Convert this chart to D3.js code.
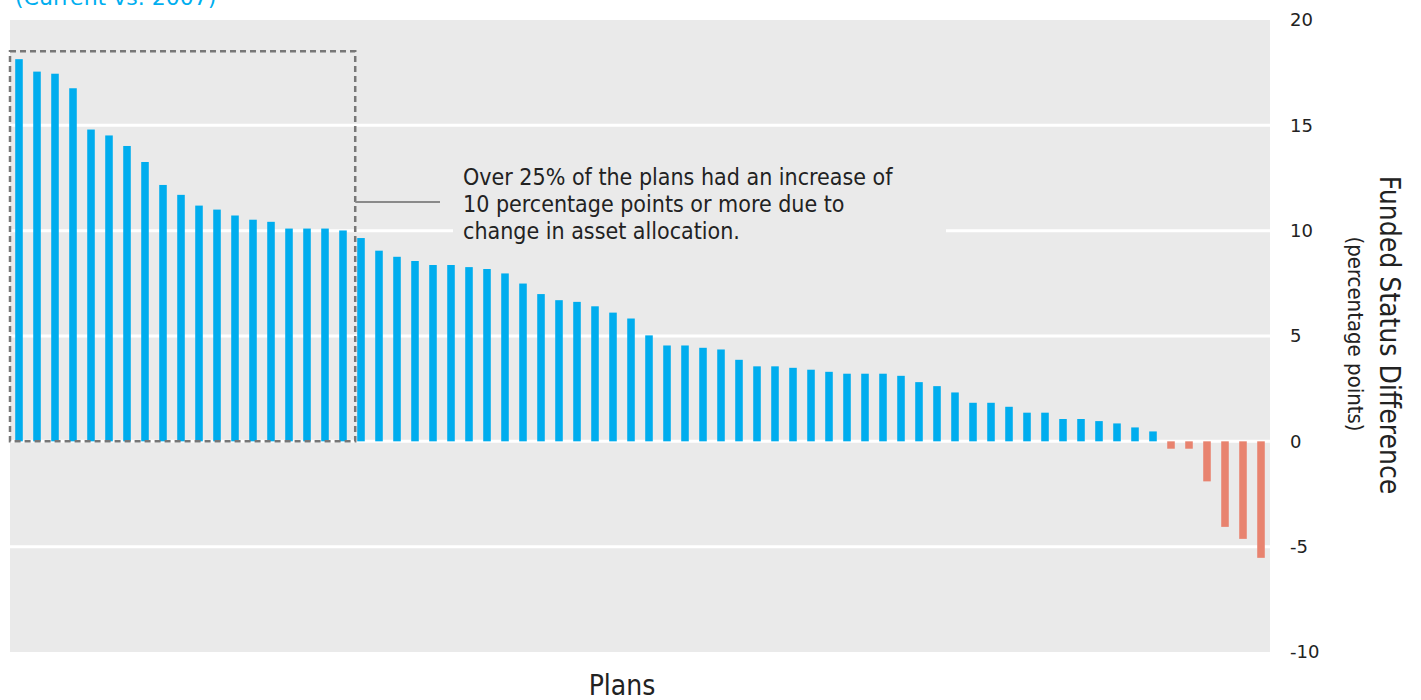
<!DOCTYPE html>
<html>
<head>
<meta charset="utf-8">
<script src="https://cdn.jsdelivr.net/npm/d3@7"></script>
<style>
  html, body { margin: 0; padding: 0; background: #ffffff; }
  svg { display: block; }
</style>
</head>
<body>
<svg id="chart" width="1421" height="700"></svg>
<script>
// Funded status difference per plan (percentage points), sorted descending
const plans = d3.range(1, 71).map(i => "Plan " + i);
const fundedDiff = [
  18.14, 17.55, 17.45, 16.76, 14.80, 14.52, 14.02, 13.26, 12.17, 11.70,
  11.19, 11.00, 10.72, 10.52, 10.42, 10.10, 10.10, 10.10, 10.01, 9.65,
  9.05, 8.76, 8.56, 8.37, 8.37, 8.27, 8.18, 7.97, 7.49, 6.99,
  6.70, 6.62, 6.41, 6.11, 5.83, 5.03, 4.55, 4.55, 4.44, 4.36,
  3.87, 3.56, 3.56, 3.49, 3.40, 3.30, 3.21, 3.21, 3.21, 3.11,
  2.81, 2.62, 2.32, 1.83, 1.83, 1.64, 1.36, 1.36, 1.06, 1.06,
  0.96, 0.85, 0.66, 0.47, -0.35, -0.35, -1.90, -4.06, -4.63, -5.53
];
const yTicks = [20, 15, 10, 5, 0, -5, -10];
const highlightCount = 19; // plans with an increase of 10+ points
const titleText = "(Current vs. 2007)";
const noteLines = [
  "Over 25% of the plans had an increase of",
  "10 percentage points or more due to",
  "change in asset allocation."
];
const axisTitle = "Funded Status Difference";
const axisSubtitle = "(percentage points)";
const xTitle = "Plans";

const condensed = "'DejaVu Sans Condensed', 'DejaVu Sans', sans-serif";
const svg = d3.select("#chart");
const panel = { left: 10, right: 1270, top: 20, bottom: 652 };

const x = d3.scaleBand()
  .domain(plans)
  .range([panel.left, panel.right])
  .paddingInner(0.58)
  .paddingOuter(0.29);

const y = d3.scaleLinear()
  .domain([-10, 20])
  .range([panel.bottom, panel.top]);

// Plot background
svg.append("rect")
  .attr("x", panel.left).attr("y", panel.top)
  .attr("width", panel.right - panel.left)
  .attr("height", panel.bottom - panel.top)
  .attr("fill", "#eaeaea");

// Horizontal gridlines
svg.append("g")
  .selectAll("line")
  .data(yTicks.filter(t => t > -10 && t < 20))
  .join("line")
  .attr("x1", panel.left).attr("x2", panel.right)
  .attr("y1", d => y(d)).attr("y2", d => y(d))
  .attr("stroke", "#ffffff")
  .attr("stroke-width", 3);

// Bars
svg.append("g")
  .selectAll("rect")
  .data(fundedDiff)
  .join("rect")
  .attr("x", (d, i) => x(plans[i]))
  .attr("width", x.bandwidth())
  .attr("y", d => y(Math.max(0, d)))
  .attr("height", d => Math.abs(y(d) - y(0)))
  .attr("fill", d => d >= 0 ? "#00adee" : "#e8836f");

// Dashed box around the top plans
const boxRight = x(plans[highlightCount]) - 2;
const boxTop = y(d3.max(fundedDiff)) - 8;
svg.append("rect")
  .attr("x", panel.left).attr("y", boxTop)
  .attr("width", boxRight - panel.left)
  .attr("height", y(0) - boxTop)
  .attr("fill", "none")
  .attr("stroke", "#777777")
  .attr("stroke-width", 2.5)
  .attr("stroke-dasharray", "6,4");

// Annotation: leader line and text block
const noteX = 463, noteY = 185, noteStep = 27;
svg.append("line")
  .attr("x1", boxRight).attr("x2", 440)
  .attr("y1", 202).attr("y2", 202)
  .attr("stroke", "#8a8a8a")
  .attr("stroke-width", 2);

svg.append("rect")
  .attr("x", 453).attr("y", noteY - 23)
  .attr("width", 493).attr("height", noteStep * 2 + 32)
  .attr("fill", "#eaeaea");

svg.append("text")
  .attr("font-family", condensed)
  .attr("font-size", 23)
  .attr("fill", "#222222")
  .selectAll("tspan")
  .data(noteLines)
  .join("tspan")
  .attr("x", noteX)
  .attr("y", (d, i) => noteY + i * noteStep)
  .text(d => d);

// Right axis
const axis = d3.axisRight(y)
  .tickValues(yTicks)
  .tickFormat(d => String(d))
  .tickSize(0)
  .tickPadding(20);
const axisG = svg.append("g")
  .attr("transform", `translate(${panel.right},0)`)
  .call(axis);
axisG.select(".domain").remove();
axisG.selectAll("text")
  .attr("font-family", "'DejaVu Sans', Verdana, sans-serif")
  .attr("font-size", 18)
  .attr("fill", "#222222");

// Axis titles
svg.append("text")
  .attr("transform", "translate(1380,335) rotate(90)")
  .attr("text-anchor", "middle")
  .attr("font-family", condensed)
  .attr("font-size", 28)
  .attr("fill", "#222222")
  .text(axisTitle);

svg.append("text")
  .attr("transform", "translate(1348,334) rotate(90)")
  .attr("text-anchor", "middle")
  .attr("font-family", condensed)
  .attr("font-size", 22)
  .attr("fill", "#222222")
  .text(axisSubtitle);

svg.append("text")
  .attr("x", 622).attr("y", 695)
  .attr("text-anchor", "middle")
  .attr("font-family", condensed)
  .attr("font-size", 28)
  .attr("fill", "#222222")
  .text(xTitle);

// Chart title, mostly above the visible area
svg.append("text")
  .attr("x", 15).attr("y", 5)
  .attr("font-family", "'DejaVu Sans', Verdana, sans-serif")
  .attr("font-size", 22)
  .attr("fill", "#00aeef")
  .text(titleText);
</script>
</body>
</html>
